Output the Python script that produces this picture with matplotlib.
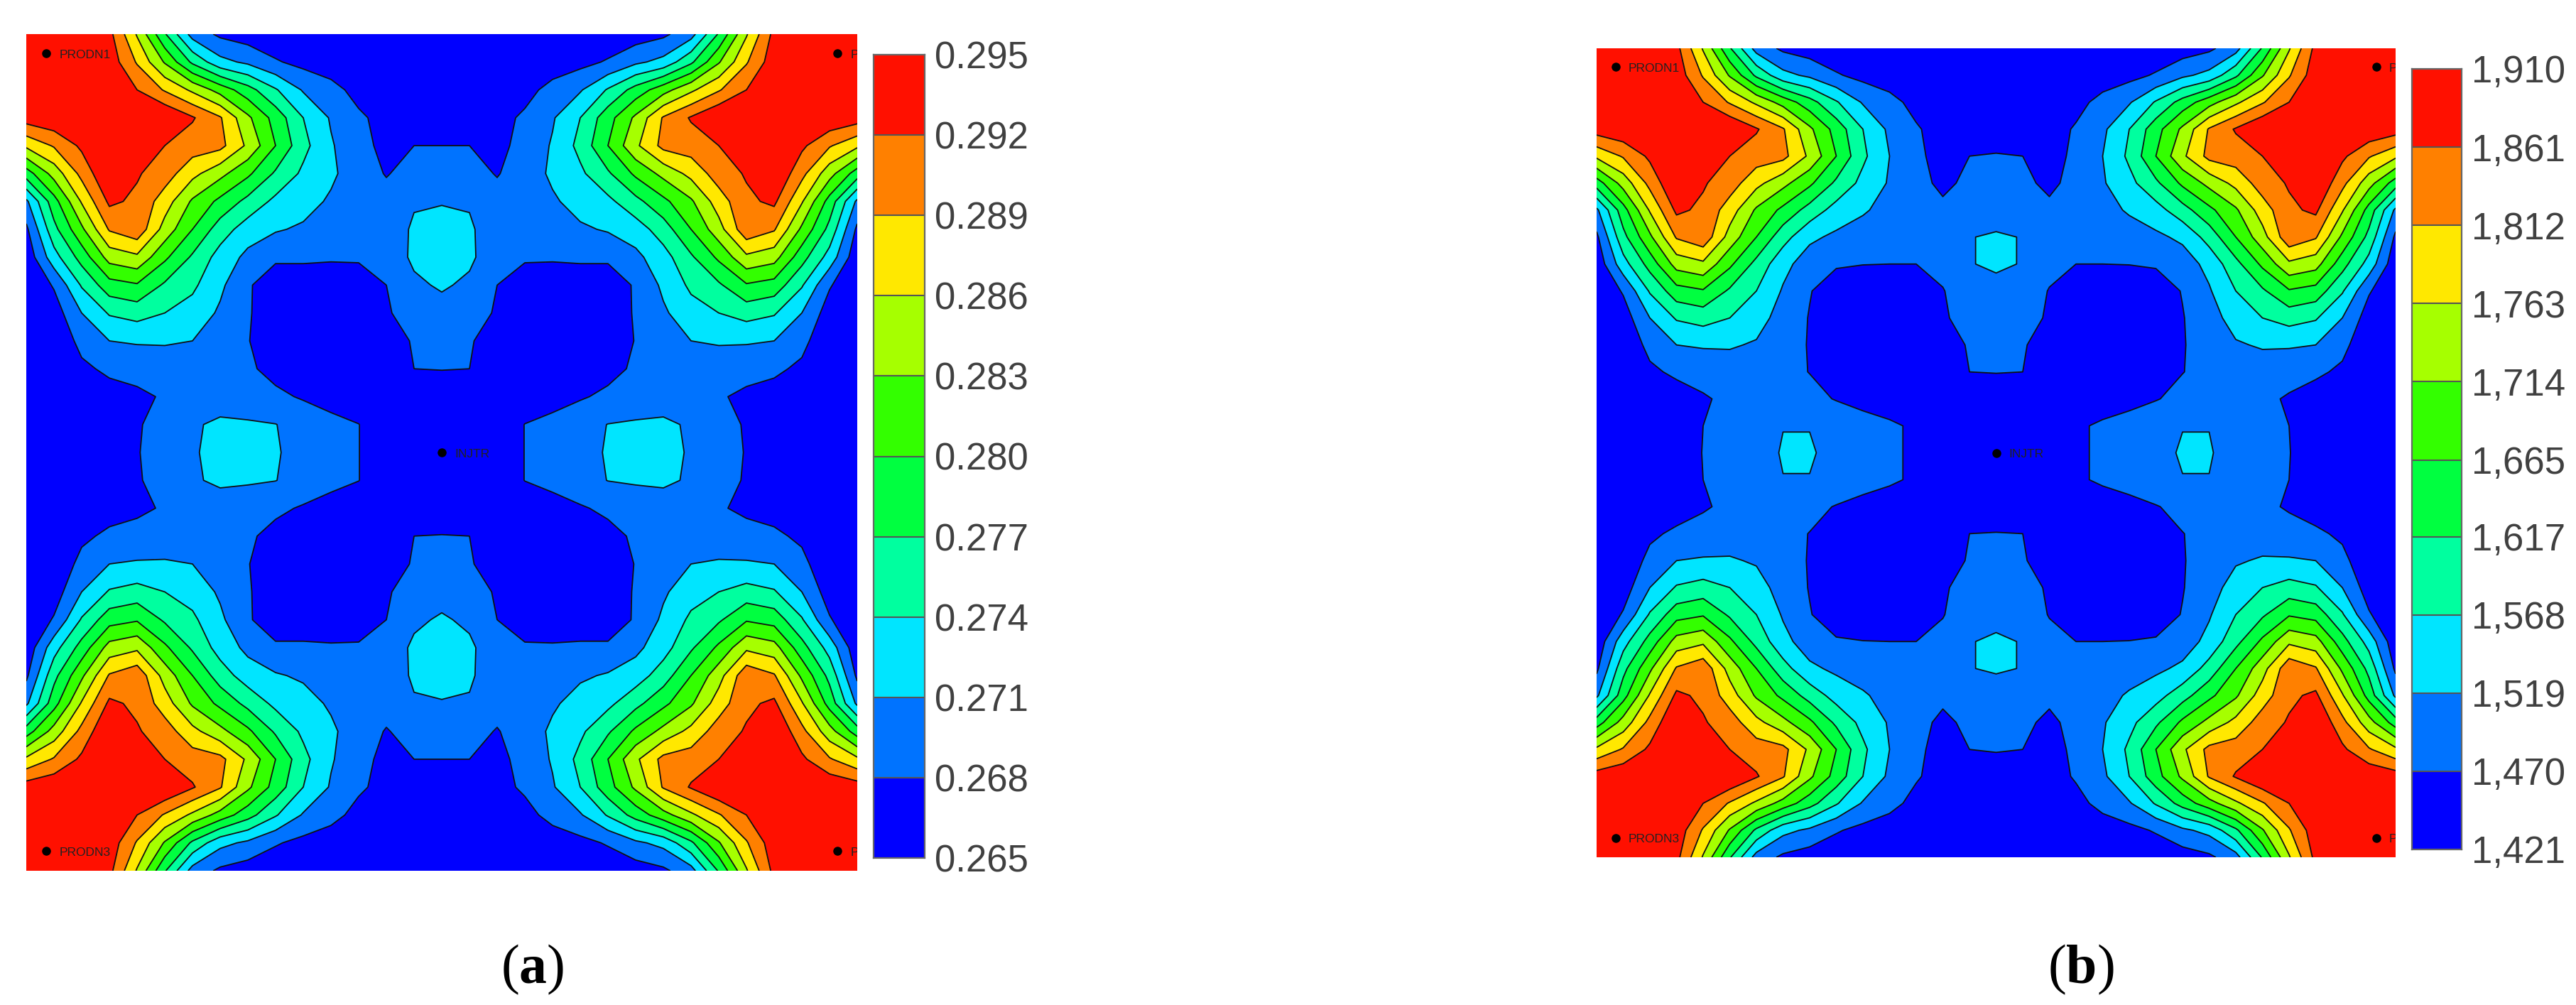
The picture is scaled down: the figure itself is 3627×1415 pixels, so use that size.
import numpy as np
import matplotlib
matplotlib.use("Agg")
import matplotlib.pyplot as plt
from matplotlib.colors import ListedColormap, BoundaryNorm

W, H = 3627, 1415
plt.rcParams['font.family'] = ['Liberation Sans', 'DejaVu Sans']
plt.rcParams['mathtext.fontset'] = 'custom'
plt.rcParams['mathtext.rm'] = 'Liberation Serif'
plt.rcParams['mathtext.bf'] = 'Liberation Serif:bold'

LEVELS_A = [0.265, 0.268, 0.271, 0.274, 0.277, 0.280, 0.283, 0.286, 0.289, 0.292, 0.295]
LEVELS_B = [1421, 1470, 1519, 1568, 1617, 1665, 1714, 1763, 1812, 1861, 1910]
LABELS_A = ['0.265', '0.268', '0.271', '0.274', '0.277', '0.280', '0.283', '0.286', '0.289', '0.292', '0.295']
LABELS_B = ['1,421', '1,470', '1,519', '1,568', '1,617', '1,665', '1,714', '1,763', '1,812', '1,861', '1,910']
BAND_COLORS = ['#0000ff', '#0073ff', '#00e5ff', '#00ff9f', '#00ff40',
               '#33ff00', '#a6ff00', '#ffe800', '#ff8000', '#ff1000']

# Top-left quarter of each map, read in colour-band units (0 = bottom of scale, 10 = top)
QUARTER_A = [
 [10.0,10.0,10.0, 9.3, 6.9, 4.1, 1.6, 0.8, 0.5, 0.3, 0.2, 0.2, 0.2, 0.2, 0.2, 0.2],
 [10.0,10.0,10.0, 9.6, 7.9, 5.9, 3.8, 2.3, 1.8, 1.1, 0.7, 0.5, 0.3, 0.2, 0.2, 0.2],
 [10.0,10.0,10.0,10.0, 9.0, 7.9, 6.8, 5.6, 4.4, 3.1, 1.9, 1.3, 0.7, 0.3, 0.2, 0.2],
 [ 9.5, 9.8,10.0,10.0,10.0,10.0, 9.1, 8.1, 6.2, 4.6, 3.0, 1.9, 1.15,0.7, 0.3, 0.2],
 [ 7.2, 8.1, 9.2,10.0, 9.7, 9.0, 8.5, 8.3, 6.8, 5.0, 3.3, 2.1, 1.3, 0.75,1.0, 1.0],
 [ 4.5, 6.4, 8.3,10.0, 9.1, 8.5, 7.3, 6.3, 5.2, 3.85,2.8, 2.2, 1.4, 0.95,1.3, 1.4],
 [ 1.8, 4.6, 7.1, 9.2, 8.8, 7.5, 5.85,4.75,3.7, 2.75,2.4, 1.85,1.5, 1.3, 1.9, 1.95],
 [ 0.8, 3.7, 5.8, 8.1, 8.7, 6.6, 5.0, 3.5, 2.5, 2.1, 1.85,1.6, 1.4, 1.4, 2.15,2.3],
 [ 0.3, 2.6, 4.4, 6.4, 6.8, 5.2, 3.85,2.6, 1.75,1.15,1.15,1.1, 1.1, 1.5, 2.15,2.3],
 [ 0.1, 1.1, 3.1, 4.6, 4.9, 3.85,3.2, 2.2, 1.1, 0.5, 0.5, 0.5, 0.6, 1.0, 1.85,2.1],
 [ 0.0, 0.5, 2.0, 3.1, 3.4, 3.0, 2.6, 1.85,1.1, 0.4, 0.2, 0.2, 0.4, 0.9, 1.4, 1.7],
 [ 0.0, 0.2, 1.3, 2.0, 2.1, 2.1, 2.0, 1.5, 1.05,0.3, 0.1, 0.1, 0.2, 0.5, 1.1, 1.25],
 [ 0.0, 0.05,0.8, 1.2, 1.35,1.5, 1.5, 1.4, 1.15,0.7, 0.3, 0.2, 0.2, 0.2, 1.0, 1.05],
 [ 0.0, 0.0, 0.3, 0.6, 0.8, 1.1, 1.5, 1.6, 1.5, 1.2, 0.9, 0.6, 0.3, 0.15,0.1, 0.1],
 [ 0.0, 0.0, 0.0, 0.2, 0.9, 1.4, 1.9, 2.15,2.1, 2.02,1.65,1.3, 1.02,0.3, 0.1, 0.1],
 [ 0.0, 0.0, 0.0, 0.1, 0.95,1.4, 1.9, 2.3, 2.4, 2.1, 1.6, 1.3, 1.02,0.3, 0.1, 0.0],
]
QUARTER_B = [
 [10.0,10.0,10.0, 9.3, 6.9, 4.1, 1.6, 0.8, 0.5, 0.3, 0.2, 0.2, 0.2, 0.2, 0.2, 0.2],
 [10.0,10.0,10.0, 9.6, 7.9, 5.9, 3.8, 2.3, 1.8, 1.1, 0.7, 0.5, 0.3, 0.2, 0.2, 0.2],
 [10.0,10.0,10.0,10.0, 9.0, 7.9, 6.8, 5.6, 4.4, 3.1, 1.9, 1.3, 0.7, 0.3, 0.2, 0.2],
 [ 9.5, 9.8,10.0,10.0,10.0,10.0, 9.1, 8.1, 6.2, 4.6, 3.0, 1.8, 1.1, 0.6, 0.3, 0.2],
 [ 7.2, 8.1, 9.2,10.0, 9.7, 9.0, 8.5, 8.3, 6.8, 5.0, 3.2, 2.0, 1.2, 0.65,1.0, 1.1],
 [ 4.5, 6.4, 8.3,10.0, 9.1, 8.5, 7.3, 6.3, 5.2, 3.8, 2.7, 1.9, 1.3, 0.8, 1.2, 1.3],
 [ 1.8, 4.6, 7.1, 9.2, 8.8, 7.5, 5.85,4.75,3.6, 2.6, 2.1, 1.7, 1.3, 1.2, 1.5, 1.6],
 [ 0.8, 3.7, 5.8, 8.1, 8.7, 6.6, 5.0, 3.4, 2.2, 1.8, 1.6, 1.4, 1.3, 1.3, 1.97,2.1],
 [ 0.3, 2.6, 4.4, 6.4, 6.8, 5.2, 3.7, 2.3, 1.5, 1.1, 1.02,1.0, 1.0, 1.3, 1.97,2.1],
 [ 0.1, 1.1, 3.1, 4.6, 4.9, 3.85,3.0, 1.9, 1.05,0.5, 0.4, 0.4, 0.5, 0.95,1.6, 1.8],
 [ 0.0, 0.5, 2.0, 3.1, 3.4, 3.0, 2.4, 1.6, 0.95,0.4, 0.2, 0.2, 0.4, 0.9, 1.3, 1.6],
 [ 0.0, 0.2, 1.3, 2.0, 2.1, 2.1, 1.9, 1.35,0.95,0.3, 0.1, 0.1, 0.2, 0.5, 1.1, 1.25],
 [ 0.0, 0.05,0.8, 1.2, 1.35,1.5, 1.45,1.25,0.98,0.6, 0.3, 0.2, 0.2, 0.2, 1.0, 1.05],
 [ 0.0, 0.0, 0.2, 0.5, 0.9, 1.2, 1.4, 1.4, 1.25,0.95,0.8, 0.5, 0.3, 0.15,0.1, 0.1],
 [ 0.0, 0.0, 0.0, 0.2, 1.0, 1.35,1.45,1.97,1.97,1.65,1.25,1.15,0.85,0.3, 0.1, 0.1],
 [ 0.0, 0.0, 0.0, 0.1, 1.05,1.4, 1.475,2.1,2.1, 1.7, 1.3, 1.15,0.85,0.3, 0.1, 0.0],
]

WELLS_X = [0.024, 0.976, 0.024, 0.976, 0.5]
WELLS_Y = [0.977, 0.977, 0.024, 0.024, 0.5]
WELL_NAMES = ['PRODN1', 'PRODN2', 'PRODN3', 'PRODN4', 'INJTR']


def full_grid(quarter, levels):
    q = np.array(quarter)
    top = np.hstack([q, q[:, -2::-1]])
    grid = np.vstack([top, top[-2::-1]])
    return np.interp(grid, np.arange(11), levels)


def px_axes(fig, x0, y0, x1, y1):
    return fig.add_axes([x0 / W, 1 - y1 / H, (x1 - x0) / W, (y1 - y0) / H])


def panel(fig, box, cbox, quarter, levels, labels, caption, capx):
    ax = px_axes(fig, *box)
    data = full_grid(quarter, levels)
    n = data.shape[0]
    x = np.linspace(0, 1, n)
    y = np.linspace(1, 0, n)
    cmap = ListedColormap(BAND_COLORS)
    norm = BoundaryNorm(levels, cmap.N)
    ax.contourf(x, y, data, levels=levels, cmap=cmap, norm=norm, extend='both')
    ax.contour(x, y, data, levels=levels[1:-1], colors='#101010', linewidths=1.3)
    ax.set_xlim(0, 1)
    ax.set_ylim(0, 1)
    ax.axis('off')
    ax.plot(WELLS_X, WELLS_Y, 'o', color='black', ms=8, clip_on=True)
    for wx, wy, name in zip(WELLS_X, WELLS_Y, WELL_NAMES):
        ax.text(wx + 0.016, wy - 0.002, name, fontsize=12.5, color='#222222',
                va='center', ha='left', clip_on=True)

    cax = px_axes(fig, *cbox)
    cax.pcolormesh([0, 1], levels, np.array(levels[:-1])[:, None], cmap=cmap, norm=norm,
                   edgecolors='none')
    cax.hlines(levels[1:-1], 0, 1, color='#555555', lw=1.5)
    cax.set_xlim(0, 1)
    cax.set_ylim(levels[0], levels[-1])
    cax.set_xticks([])
    cax.set_yticks(levels)
    cax.set_yticklabels(labels)
    cax.yaxis.tick_right()
    cax.tick_params(axis='y', length=0, pad=10, labelsize=38, labelcolor='#404040')
    for s in cax.spines.values():
        s.set_color('#666666')
        s.set_linewidth(1.6)
    fig.text(capx / W, 1 - 1365 / H, caption, fontsize=56, ha='center', va='center', color='black')


fig = plt.figure(figsize=(W / 100, H / 100), dpi=100, facecolor='white')
panel(fig, (37, 48, 1207, 1226), (1230, 77, 1302, 1208), QUARTER_A, LEVELS_A, LABELS_A,
      r'$\mathrm{(}\mathbf{a}\mathrm{)}$', 750)
panel(fig, (2248, 68, 3373, 1207), (3396, 97, 3466, 1196), QUARTER_B, LEVELS_B, LABELS_B,
      r'$\mathrm{(}\mathbf{b}\mathrm{)}$', 2930)
fig.savefig('out.png', dpi=100, facecolor='white')
